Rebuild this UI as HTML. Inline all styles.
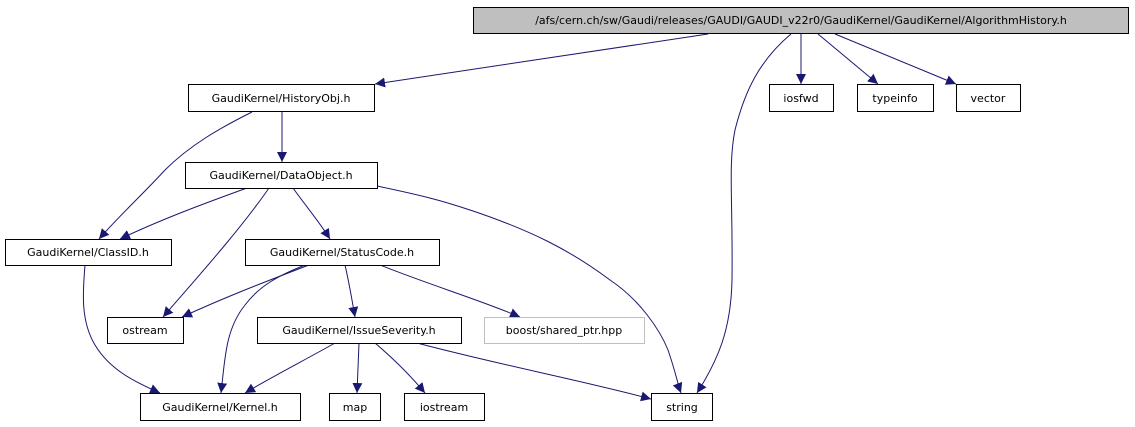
<!DOCTYPE html>
<html><head><meta charset="utf-8"><style>
body{margin:0;background:#fff;}
svg{display:block;}
text{font-family:"DejaVu Sans","Liberation Sans",sans-serif;font-size:11px;fill:#000;}
</style></head><body>
<svg width="1135" height="427" viewBox="0 0 1135 427" xmlns="http://www.w3.org/2000/svg">
<defs>
<marker id="a" viewBox="0 0 10 10" refX="10" refY="5" markerWidth="10" markerHeight="10" markerUnits="userSpaceOnUse" orient="auto">
<path d="M0,0 L10,5 L0,10 z" fill="#191970"/>
</marker>
</defs>
<g fill="none" stroke="#191970" stroke-width="1" marker-end="url(#a)">
<path d="M708,34 L375,84"/>
<path d="M791,34 C760,60 745,90 735,130 C728,165 733,200 732,280 C731,330 718,360 697,393"/>
<path d="M801,34 L801,84"/>
<path d="M818,34 L878,84"/>
<path d="M835,34 L956,84"/>
<path d="M282,112 L282,162"/>
<path d="M252,112 C220,128 190,145 165,170 C145,192 120,215 99,239"/>
<path d="M247,188 C200,205 160,220 120,239"/>
<path d="M269,188 C240,230 195,280 163,317"/>
<path d="M293,188 C305,205 318,220 330,239"/>
<path d="M377,186 C420,195 440,200 470,210 C530,230 570,250 610,280 C640,300 660,330 668,350 C675,370 678,385 681,393"/>
<path d="M85,265 C83,290 80,320 95,345 C110,370 135,382 160,393"/>
<path d="M309,265 C270,280 230,295 182,317"/>
<path d="M305,265 C280,275 260,285 245,305 C225,330 225,360 221,393"/>
<path d="M345,265 C349,282 352,300 355,317"/>
<path d="M380,265 C430,285 480,300 520,317"/>
<path d="M335,343 C305,360 275,375 245,393"/>
<path d="M359,343 L357,393"/>
<path d="M375,343 C395,360 410,375 425,393"/>
<path d="M417,343 C500,365 580,380 651,399"/>
</g>
<g stroke-width="1">
<rect x="473.5" y="7.5" width="655" height="26" fill="#bfbfbf" stroke="#000"/>
<rect x="188.5" y="84.5" width="186" height="27" fill="#fff" stroke="#000"/>
<rect x="769.5" y="84.5" width="64" height="27" fill="#fff" stroke="#000"/>
<rect x="857.5" y="84.5" width="76" height="27" fill="#fff" stroke="#000"/>
<rect x="956.5" y="84.5" width="64" height="27" fill="#fff" stroke="#000"/>
<rect x="185.5" y="162.5" width="192" height="26" fill="#fff" stroke="#000"/>
<rect x="5.5" y="239.5" width="166" height="26" fill="#fff" stroke="#000"/>
<rect x="245.5" y="239.5" width="194" height="26" fill="#fff" stroke="#000"/>
<rect x="107.5" y="317.5" width="76" height="26" fill="#fff" stroke="#000"/>
<rect x="257.5" y="317.5" width="204" height="26" fill="#fff" stroke="#000"/>
<rect x="484.5" y="317.5" width="160" height="26" fill="#fff" stroke="#bfbfbf"/>
<rect x="140.5" y="393.5" width="160" height="27" fill="#fff" stroke="#000"/>
<rect x="329.5" y="393.5" width="51" height="27" fill="#fff" stroke="#000"/>
<rect x="404.5" y="393.5" width="80" height="27" fill="#fff" stroke="#000"/>
<rect x="651.5" y="393.5" width="61" height="27" fill="#fff" stroke="#000"/>
</g>
<g text-anchor="middle">
<text x="801" y="24">/afs/cern.ch/sw/Gaudi/releases/GAUDI/GAUDI_v22r0/GaudiKernel/GaudiKernel/AlgorithmHistory.h</text>
<text x="281" y="102">GaudiKernel/HistoryObj.h</text>
<text x="801" y="102">iosfwd</text>
<text x="895" y="102">typeinfo</text>
<text x="988" y="102">vector</text>
<text x="281" y="179">GaudiKernel/DataObject.h</text>
<text x="88" y="256">GaudiKernel/ClassID.h</text>
<text x="342" y="256">GaudiKernel/StatusCode.h</text>
<text x="145" y="334">ostream</text>
<text x="359" y="334">GaudiKernel/IssueSeverity.h</text>
<text x="564" y="334">boost/shared_ptr.hpp</text>
<text x="220" y="411">GaudiKernel/Kernel.h</text>
<text x="355" y="411">map</text>
<text x="444" y="411">iostream</text>
<text x="682" y="411">string</text>
</g>
</svg>
</body></html>
